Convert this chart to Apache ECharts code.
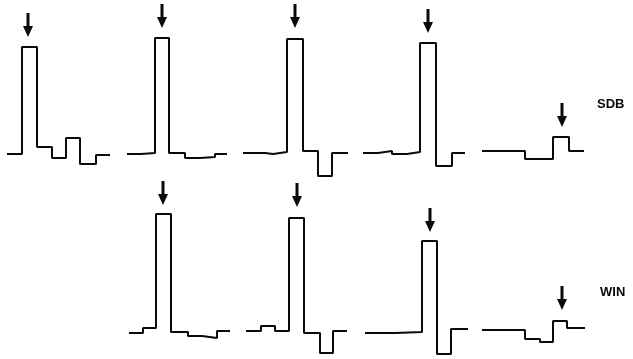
<!DOCTYPE html>
<html>
<head>
<meta charset="utf-8">
<script src="https://cdn.jsdelivr.net/npm/echarts@6/dist/echarts.min.js"></script>
<style>html,body{margin:0;padding:0;background:#fff;}#c{width:633px;height:359px;}</style>
</head>
<body>
<div id="c"></div>
<script>
// Step traces: edges = time breakpoints, levels = amplitude held between edges
// Top row (SDB)
const sdbEdges1 = [7, 22, 37, 52, 66, 80, 96, 110];
const sdbLevels1 = [-1, 106, 6, -5, 15, -11, -2];
const sdbEdges2 = [127, 141, 155, 169, 185, 200, 215, 227];
const sdbLevels2 = [-1, 0, 115, 0, -5, -4, -1];
const sdbEdges3 = [243, 265, 273, 287, 303, 318, 332, 348];
const sdbLevels3 = [0, -1, 1, 114, 2, -23, 0];
const sdbEdges4 = [363, 378, 392, 407, 420, 436, 452, 465];
const sdbLevels4 = [0, 2, -1, 1, 110, -13, 0];
const sdbEdges5 = [482, 525, 553, 569, 584];
const sdbLevels5 = [2, -6, 16, 2];
// Bottom row (WIN)
const winEdges2 = [129, 143, 156, 171, 188, 202, 217, 230];
const winLevels2 = [-1, 4, 118, 0, -4, -6, 1];
const winEdges3 = [246, 261, 275, 289, 304, 320, 333, 347];
const winLevels3 = [1, 6, 1, 114, -1, -21, 1];
const winEdges4 = [365, 395, 422, 437, 451, 468];
const winLevels4 = [-1, 0, 91, -22, 3];
const winEdges5 = [482, 525, 540, 553, 567, 585];
const winLevels5 = [2, -7, -10, 11, 4];
// Arrow markers (time, amplitude of arrow tip)
const sdbArrowX = [28, 162, 295, 428, 562];
const sdbArrowY = [116, 125, 125, 120, 26];
const winArrowX = [163, 297, 430, 562];
const winArrowY = [127, 125, 100, 22];
const rowLabels = ['SDB', 'WIN'];

function stepData(edges, levels) {
  return edges.map((x, i) => [x, levels[Math.min(i, levels.length - 1)]]);
}

const chart = echarts.init(document.getElementById('c'), null, {renderer: 'canvas'});
const lineStyle = {color: '#0a0a0a', width: 2};
const arrowPath = 'path://M3.5,0 L6.5,0 L6.5,13 L10,13 L5,24 L0,13 L3.5,13 Z';

const traces = [
  [sdbEdges1, sdbLevels1, 0], [sdbEdges2, sdbLevels2, 0], [sdbEdges3, sdbLevels3, 0],
  [sdbEdges4, sdbLevels4, 0], [sdbEdges5, sdbLevels5, 0],
  [winEdges2, winLevels2, 1], [winEdges3, winLevels3, 1], [winEdges4, winLevels4, 1],
  [winEdges5, winLevels5, 1]
];

const series = traces.map(([e, l, g]) => ({
  type: 'line', step: 'end', xAxisIndex: g, yAxisIndex: g,
  data: stepData(e, l), symbol: 'none', lineStyle: lineStyle, silent: true, animation: false
}));
const arrowStyle = {color: '#0a0a0a', opacity: 1};
series.push({
  type: 'scatter', xAxisIndex: 0, yAxisIndex: 0, symbol: arrowPath, symbolSize: [10, 24],
  symbolOffset: [0, -12], itemStyle: arrowStyle, silent: true, animation: false,
  data: sdbArrowX.map((x, i) => [x, sdbArrowY[i]])
});
series.push({
  type: 'scatter', xAxisIndex: 1, yAxisIndex: 1, symbol: arrowPath, symbolSize: [10, 24],
  symbolOffset: [0, -12], itemStyle: arrowStyle, silent: true, animation: false,
  data: winArrowX.map((x, i) => [x, winArrowY[i]])
});

const hiddenX = {type: 'value', min: 0, max: 633, show: false};
const labelStyle = {fontFamily: 'Liberation Sans', fontSize: 13, fontWeight: 'bold', color: '#0a0a0a'};
chart.setOption({
  backgroundColor: '#fff',
  animation: false,
  grid: [
    {left: 0, right: 0, top: 0, height: 180},
    {left: 0, right: 0, top: 180, height: 179}
  ],
  xAxis: [Object.assign({gridIndex: 0}, hiddenX), Object.assign({gridIndex: 1}, hiddenX)],
  yAxis: [
    {type: 'value', gridIndex: 0, min: -27, max: 153, show: false},
    {type: 'value', gridIndex: 1, min: -27, max: 152, show: false}
  ],
  title: [
    {text: rowLabels[0], left: 597, top: 98, textStyle: labelStyle, padding: 0},
    {text: rowLabels[1], left: 600, top: 286, textStyle: labelStyle, padding: 0}
  ],
  series: series
});
</script>
</body>
</html>
